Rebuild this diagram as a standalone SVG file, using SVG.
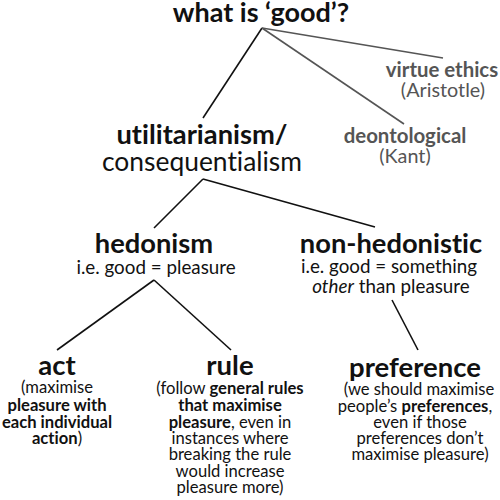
<svg xmlns="http://www.w3.org/2000/svg" width="500" height="500" viewBox="0 0 500 500">
<style>
text{font-family:Lato,"Noto Sans",sans-serif;text-anchor:middle;fill:#111;font-variant-ligatures:none}
.b{font-weight:bold}
.h{font-size:27.3px;font-weight:bold}
.h2{font-size:27.5px;font-weight:bold}
.sub{font-size:18.8px}
.gb{font-size:20.4px;font-weight:bold;fill:#555}
.gs{font-size:19.8px;fill:#555}
.t{font-size:16.6px}
.l{stroke:#111;stroke-width:1.6;fill:none}
.lg{stroke:#555;stroke-width:1.6;fill:none}
</style>
<rect width="500" height="500" fill="#fff"/>
<g id="connectors">
<line class="l" x1="262" y1="28" x2="203" y2="118"/>
<line class="lg" x1="262" y1="28" x2="404" y2="124"/>
<line class="lg" x1="262" y1="28" x2="443" y2="58"/>
<line class="l" x1="203" y1="179" x2="154" y2="228"/>
<line class="l" x1="203" y1="179" x2="375" y2="227"/>
<line class="l" x1="154" y1="280" x2="57" y2="350"/>
<line class="l" x1="154" y1="280" x2="231" y2="350"/>
<line class="l" x1="392" y1="300" x2="418" y2="350"/>
</g>
<g id="good"><text style="font-size:27px;font-weight:bold" x="261" y="22">what is ‘good’?</text></g>
<g id="virtue">
<text class="gb" x="442" y="77">virtue ethics</text>
<text class="gs" x="443" y="97">(Aristotle)</text>
</g>
<g id="deontological">
<text class="gb" x="405" y="143">deontological</text>
<text class="gs" x="405" y="163">(Kant)</text>
</g>
<g id="utilitarianism">
<text class="h" x="202" y="144">utilitarianism/</text>
<text style="font-size:26.4px" x="202" y="171">consequentialism</text>
</g>
<g id="hedonism">
<text class="h" x="154" y="253">hedonism</text>
<text class="sub" x="156" y="274">i.e. good = pleasure</text>
</g>
<g id="nonhedonistic">
<text class="h" x="391" y="253">non-hedonistic</text>
<text class="sub" x="389" y="273">i.e. good = something</text>
<text class="sub" x="391" y="293"><tspan font-style="italic">other</tspan> than pleasure</text>
</g>
<g id="act">
<text class="h2" x="57" y="375">act</text>
<text class="t" x="57" y="393">(maximise</text>
<text class="t b" x="57" y="411">pleasure with</text>
<text class="t b" x="57" y="428">each individual</text>
<text class="t" x="57" y="444"><tspan class="b">action</tspan>)</text>
</g>
<g id="rule">
<text class="h2" x="230" y="375">rule</text>
<text class="t" x="230" y="394">(follow <tspan class="b">general rules</tspan></text>
<text class="t b" x="230" y="411">that maximise</text>
<text class="t" x="230" y="428"><tspan class="b">pleasure</tspan>, even in</text>
<text class="t" x="230" y="444">instances where</text>
<text class="t" x="230" y="460">breaking the rule</text>
<text class="t" x="230" y="477">would increase</text>
<text class="t" x="230" y="493">pleasure more)</text>
</g>
<g id="preference">
<text class="h2" x="415" y="377">preference</text>
<text class="t" x="419" y="395">(we should maximise</text>
<text class="t" x="415" y="412">people’s <tspan class="b">preferences</tspan>,</text>
<text class="t" x="420" y="428">even if those</text>
<text class="t" x="420" y="444">preferences don’t</text>
<text class="t" x="420" y="460">maximise pleasure)</text>
</g>
</svg>
